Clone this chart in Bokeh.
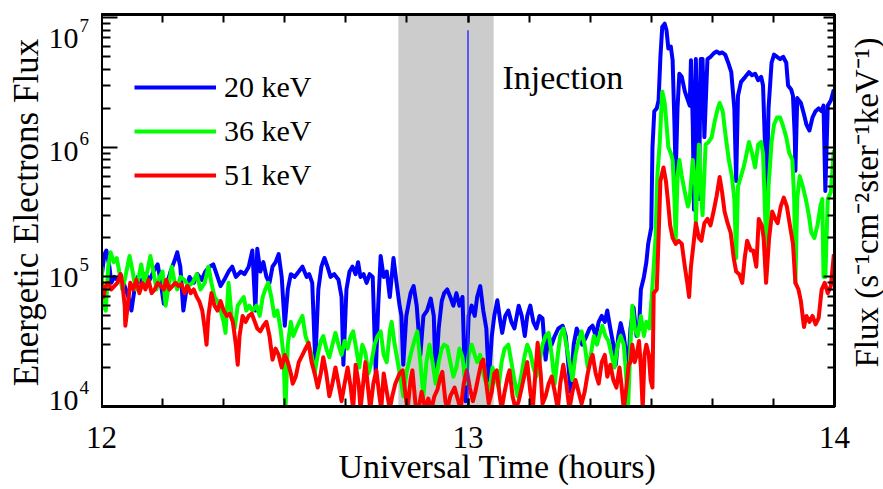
import math
from bokeh.plotting import figure
from bokeh.layouts import row, column
from bokeh.models import (Range1d, FixedTicker, LinearAxis, LogAxis, BoxAnnotation,
                          Label, Legend, LegendItem, ColumnDataSource, CustomJSTickFormatter)
from bokeh.embed import file_html
from bokeh.resources import INLINE

FONT = "Liberation Serif"

# ---- data: (minutes after 12:00 UT, flux) ----
flux_20kev = [(0,1.0e5),(0.5,1.5e5),(0.8,1.6e5),(1.3,1.2e5),(1.6,9e4),(2.1,1.0e5),(2.6,9.5e4),(3.1,1.05e5),(3.8,8.5e4),(4.4,7e4),(4.9,5.5e4),(5.4,8e4),(5.9,1.0e5),(6.5,9e4),(7.2,1.05e5),(7.9,9.5e4),(8.5,1.1e5),(9.2,1.25e5),(9.7,9e4),(10.2,6.2e4),(10.6,8.5e4),(11.3,1.1e5),(12.0,1.35e5),(12.4,1.55e5),(12.9,1.2e5),(13.4,5.5e4),(13.9,8e4),(14.4,1.0e5),(15.1,9e4),(15.7,1.05e5),(16.4,9.5e4),(17.0,1.1e5),(17.7,1.2e5),(18.3,1.25e5),(19.0,1.0e5),(19.5,8.5e4),(20.1,9.5e4),(20.8,1.1e5),(21.4,1.2e5),(22.0,1.0e5),(22.8,1.1e5),(23.4,1.05e5),(24.1,1.2e5),(24.7,1.6e5),(25.2,5.5e4),(25.5,1.65e5),(26.0,1.1e5),(26.5,1.3e5),(27.0,1.0e5),(27.5,9e4),(28.0,1.2e5),(28.5,1.3e5),(29.0,1.5e5),(29.5,1.0e5),(30.0,4.2e4),(30.5,8e4),(31.0,1.05e5),(31.6,1.0e5),(32.3,1.1e5),(32.9,1.2e5),(33.6,1.0e5),(34.0,1.05e5),(34.5,9e4),(35.0,2.2e4),(35.5,8e4),(36.0,1.2e5),(36.5,1.4e5),(37.0,1.2e5),(37.5,1.0e5),(38.1,1.05e5),(38.8,9.5e4),(39.3,7e4),(39.6,2.1e4),(40.1,8e4),(40.6,1.1e5),(41.1,1.2e5),(41.6,1.05e5),(42.0,1.3e5),(42.4,1.0e5),(42.9,1.05e5),(43.4,9e4),(43.9,1.05e5),(44.4,1.0e5),(44.9,1.8e4),(45.3,6e4),(45.7,1.45e5),(46.2,1.0e5),(46.7,1.1e5),(47.2,7e4),(47.8,1.4e5),(48.3,9e4),(48.8,6e4),(49.1,5e4),(49.4,2.1e4),(49.9,5e4),(50.6,7.5e4),(51.1,8.5e4),(51.6,6e4),(52.2,2.5e4),(52.7,5e4),(53.3,5.5e4),(53.9,6.8e4),(54.4,5e4),(54.7,1.6e4),(55.2,4e4),(55.7,6.5e4),(56.1,7.5e4),(56.6,8e4),(57.1,7e4),(57.6,6e4),(58.1,7.5e4),(58.6,6e4),(59.1,7e4),(59.6,1.1e4),(60.1,5e4),(60.6,6e4),(61.1,5e4),(61.5,7e4),(62.0,8.5e4),(62.5,5.5e4),(63.0,4e4),(63.4,1.6e4),(63.9,3.5e4),(64.3,5e4),(64.8,6.6e4),(65.3,4.5e4),(65.6,3.7e4),(66.1,5e4),(66.6,5.5e4),(67.1,4.5e4),(67.6,4e4),(68.3,6e4),(68.8,5e4),(69.3,3.5e4),(69.7,5e4),(70.2,6e4),(70.7,4.5e4),(71.2,4e4),(71.7,5e4),(72.2,4.8e4),(72.7,2.3e4),(73.2,3.5e4),(73.7,3e4),(74.2,3.5e4),(74.8,4e4),(75.5,4.2e4),(76.0,3.5e4),(76.3,2.5e4),(76.8,1.3e4),(77.3,3e4),(77.8,4e4),(78.3,3.5e4),(78.7,3e4),(79.4,3.5e4),(79.9,4e4),(80.4,4.2e4),(80.9,3.5e4),(81.4,4.5e4),(81.9,5e4),(82.4,4.5e4),(82.8,5.5e4),(83.3,4e4),(83.8,3e4),(84.2,2.1e4),(84.6,3.5e4),(85.0,4.4e4),(85.5,3.5e4),(86.2,2e4),(86.6,4e4),(87.1,5.8e4),(87.6,3.5e4),(88.0,4e4),(88.3,8e4),(88.8,1.0e5),(89.2,1.3e5),(89.5,1.8e5),(90.0,2.4e5),(90.2,1.0e6),(90.5,1.9e6),(90.9,2.0e6),(91.2,2.3e6),(91.5,5e6),(91.8,8.5e6),(92.2,9.0e6),(92.5,8e6),(92.8,5.8e6),(93.2,6e6),(93.5,4.7e6),(93.8,1.5e6),(94.0,6e5),(94.3,2e6),(94.6,3.7e6),(95.0,3.5e6),(95.5,2.7e6),(96.0,2.3e6),(96.3,2.1e6),(96.5,4.7e6),(96.8,1.5e6),(97.0,3.3e5),(97.3,4.8e6),(97.6,1.2e6),(97.8,4e5),(98.1,4.8e6),(98.4,4.8e6),(98.7,1.2e6),(99.2,4.8e6),(99.7,5e6),(100.2,5.3e6),(100.7,5.5e6),(101.2,5.3e6),(101.6,5.4e6),(102.1,5.2e6),(102.6,4.5e6),(103.1,3.8e6),(103.6,2e6),(103.9,5.5e5),(104.2,2.5e6),(104.7,3.2e6),(105.4,3.5e6),(106.0,3.8e6),(106.5,3.6e6),(107.0,3.7e6),(107.5,3.3e6),(108.0,3.5e6),(108.3,3e6),(108.7,8e5),(108.8,2.4e5),(109.2,2e6),(109.7,4.5e6),(110.1,5.2e6),(110.6,5e6),(111.1,4.8e6),(111.6,5e6),(112.1,4.5e6),(112.4,3e6),(112.9,2.8e6),(113.2,2.5e6),(113.5,1.2e6),(113.6,6.6e5),(113.9,2.4e6),(114.5,2.2e6),(115.0,1.8e6),(115.4,1.5e6),(115.9,1.35e6),(116.4,1.7e6),(116.9,1.9e6),(117.4,2.0e6),(117.9,1.9e6),(118.2,2.1e6),(118.5,4.6e5),(118.9,2.1e6),(119.4,2.3e6),(119.9,2.8e6)]

flux_36kev = [(0,1.2e5),(0.3,6e4),(0.7,5.5e4),(1.1,1.2e5),(1.5,1.55e5),(2.0,1.3e5),(2.5,1.4e5),(2.9,1.1e5),(3.4,8e4),(3.9,1.0e5),(4.6,1.45e5),(5.1,1.1e5),(5.6,8e4),(6.1,1.0e5),(6.5,1.25e5),(7.0,9e4),(7.5,1.1e5),(8.0,1.45e5),(8.5,1.1e5),(9.0,8e4),(9.5,1.0e5),(10.0,1.1e5),(10.5,6e4),(11.0,8.5e4),(11.5,1.2e5),(12.0,9e4),(12.4,8e4),(12.9,1.0e5),(13.6,9.5e4),(14.2,8.5e4),(14.9,9e4),(15.6,1.05e5),(16.2,8e4),(16.9,9e4),(17.5,1.2e5),(18.0,9e4),(18.5,7e4),(19.0,6.5e4),(19.5,5.5e4),(20.0,4.5e4),(20.3,3.7e4),(20.8,9e4),(21.3,5e4),(21.8,4e4),(22.3,6e4),(22.8,6.5e4),(23.3,7e4),(23.7,5.5e4),(24.2,6e4),(24.7,5.5e4),(25.4,6e4),(25.9,5e4),(26.4,7e4),(26.8,8e4),(27.3,9e4),(27.8,7e4),(28.3,5e4),(28.8,5.5e4),(29.3,4e4),(29.8,2.5e4),(30.1,9e3),(30.5,3e4),(31.0,4.5e4),(31.4,3.5e4),(31.9,4e4),(32.4,4.5e4),(32.9,5e4),(33.4,3.5e4),(33.9,3e4),(34.4,2.5e4),(34.9,1.8e4),(35.4,2.5e4),(35.9,3.2e4),(36.3,3.5e4),(36.8,2.8e4),(37.3,2.4e4),(37.8,3e4),(38.3,3.7e4),(38.8,3e4),(39.3,2.5e4),(39.8,3.2e4),(40.3,2.8e4),(40.8,3.5e4),(41.2,3.8e4),(41.7,2.8e4),(42.2,2e4),(42.7,3e4),(43.2,2.6e4),(43.7,1.8e4),(44.2,2.2e4),(44.7,3e4),(45.2,3.5e4),(45.7,3.8e4),(46.2,2.5e4),(46.7,2.2e4),(47.2,3.8e4),(47.5,4.5e4),(48.0,3e4),(48.5,2.2e4),(49.0,1.6e4),(49.4,1.2e4),(49.9,1.8e4),(50.6,2.5e4),(51.2,3.2e4),(51.7,3.8e4),(52.2,2.2e4),(52.7,1.2e4),(53.2,2.2e4),(53.7,3e4),(54.2,2.2e4),(54.7,1.5e4),(55.2,2.2e4),(55.7,2.8e4),(56.1,3e4),(56.6,2.9e4),(57.1,2.2e4),(57.6,1.7e4),(58.1,2e4),(58.6,2.8e4),(59.1,2.4e4),(59.6,1.5e4),(60.1,2.5e4),(60.6,3e4),(61.1,2.5e4),(61.5,2.2e4),(62.0,2.5e4),(62.5,1.8e4),(63.0,1.5e4),(63.5,1.3e4),(64.0,2e4),(64.5,1.7e4),(65.0,1.4e4),(65.5,2.2e4),(66.0,2.8e4),(66.6,3e4),(67.1,2.2e4),(67.6,1.6e4),(68.1,1.2e4),(68.6,1.6e4),(69.3,2.5e4),(69.7,3e4),(70.2,2.6e4),(70.7,2e4),(71.2,1.7e4),(71.7,2.2e4),(72.2,3e4),(72.7,3.5e4),(73.2,3.7e4),(73.7,2.5e4),(74.2,1.5e4),(74.7,2.5e4),(75.1,3.5e4),(75.6,4e4),(76.1,3e4),(76.6,2.2e4),(77.1,1.6e4),(77.6,2.5e4),(78.1,3.2e4),(78.6,3.8e4),(79.1,3e4),(79.6,2e4),(80.1,2.5e4),(80.6,3.5e4),(81.1,3e4),(81.5,3.5e4),(82.0,4.2e4),(82.5,3.5e4),(83.0,3.2e4),(83.5,2.5e4),(84.0,2e4),(84.5,3e4),(85.0,3.5e4),(85.5,3e4),(85.8,2e4),(86.2,9.5e3),(86.6,3e4),(86.9,6e4),(87.3,4e4),(87.8,3.5e4),(88.3,5e4),(88.8,3.5e4),(89.2,4.5e4),(89.7,4e4),(90.2,8.5e4),(90.7,2e5),(91.0,6e5),(91.4,1.1e6),(91.7,2.2e6),(91.8,2.7e6),(92.2,2.2e6),(92.5,1.5e6),(92.8,1.0e6),(93.2,9e5),(93.5,8e5),(93.8,4e5),(94.0,1.9e5),(94.3,6e5),(94.6,8e5),(95.0,6e5),(95.5,4.5e5),(96.0,3.5e5),(96.3,4e5),(96.8,8e5),(97.2,5e5),(97.3,2.6e5),(97.6,6e5),(97.8,1.05e6),(98.1,5e5),(98.4,3e5),(98.9,1.05e6),(99.4,1.1e6),(99.9,1.2e6),(100.4,1.6e6),(100.9,2e6),(101.2,2.2e6),(101.7,1.9e6),(102.2,1.2e6),(102.7,8e5),(103.2,6e5),(103.6,4e5),(103.9,1.4e5),(104.2,5e5),(104.7,6e5),(105.1,7e5),(105.4,8e5),(106.0,1.1e6),(106.5,9e5),(107.0,7e5),(107.5,1.05e6),(108.0,1.1e6),(108.3,9e5),(108.7,2.5e5),(108.8,1e5),(109.2,5e5),(109.7,1.1e6),(110.1,1.5e6),(110.6,1.7e6),(111.1,1.7e6),(111.6,1.45e6),(112.1,1.2e6),(112.6,9e5),(113.1,8e5),(113.4,4e5),(113.6,9e4),(113.9,4e5),(114.3,6e5),(114.8,5e5),(115.3,4e5),(115.8,3e5),(116.2,2.2e5),(116.7,2e5),(117.2,2.5e5),(117.7,3.5e5),(118.0,4e5),(118.2,1e5),(118.5,1e5),(118.9,4e5),(119.4,4.5e5),(119.9,9.5e5)]

flux_51kev = [(0,9e4),(0.3,7e4),(0.7,8.5e4),(1.1,9e4),(1.6,8e4),(2.1,8.5e4),(2.6,9e4),(3.1,1.05e5),(3.4,9e4),(3.8,6e4),(3.9,4.2e4),(4.3,6e4),(4.7,9e4),(5.2,8e4),(5.7,9.5e4),(6.2,7.5e4),(6.7,9e4),(7.2,8e4),(7.7,9.5e4),(8.2,7.5e4),(8.7,8e4),(9.2,9e4),(9.7,8.5e4),(10.2,8e4),(10.6,9.5e4),(11.1,8e4),(11.6,8.5e4),(12.1,9e4),(12.6,8.5e4),(13.1,8.8e4),(13.6,7.5e4),(14.1,8.5e4),(14.6,7.5e4),(15.1,8e4),(15.6,7e4),(16.0,6.5e4),(16.5,5.5e4),(16.9,4e4),(17.2,3e4),(17.5,5e4),(18.0,7.5e4),(18.5,6e4),(19.0,5.5e4),(19.5,6.5e4),(20.0,5.5e4),(20.5,5e4),(21.0,5.2e4),(21.5,4.5e4),(22.0,3e4),(22.3,2.1e4),(22.6,3.5e4),(23.1,5e4),(23.6,4.5e4),(24.1,5e4),(24.6,5.2e4),(25.1,4.5e4),(25.5,4e4),(26.0,3.8e4),(26.5,4.2e4),(27.0,4.5e4),(27.5,3.5e4),(28.0,2.3e4),(28.5,2.8e4),(29.0,2.5e4),(29.5,2e4),(30.0,2.5e4),(30.5,2.2e4),(31.0,1.8e4),(31.3,1.5e4),(31.8,1.7e4),(32.3,2.2e4),(32.9,2.5e4),(33.4,2.8e4),(33.9,3.1e4),(34.4,2.2e4),(34.9,1.8e4),(35.4,1.4e4),(35.9,1.8e4),(36.3,2.4e4),(36.8,1.8e4),(37.3,1.2e4),(37.8,1.5e4),(38.3,2e4),(38.8,1.5e4),(39.3,1.1e4),(39.8,1.5e4),(40.3,2e4),(40.8,1.4e4),(41.2,9.5e3),(41.6,2.1e4),(42.1,1.5e4),(42.4,9.5e3),(42.9,1.6e4),(43.2,2.2e4),(43.7,1.3e4),(44.0,9.5e3),(44.5,1.5e4),(45.0,1.9e4),(45.5,1.2e4),(45.8,9.5e3),(46.2,1.8e4),(46.7,1.3e4),(47.2,9.5e3),(47.6,1.2e4),(48.1,1.5e4),(48.8,1.8e4),(49.3,1.9e4),(49.8,1.2e4),(50.1,9.5e3),(50.6,1.6e4),(50.9,1.9e4),(51.4,1.05e4),(51.9,9.5e3),(52.4,1.3e4),(53.0,9.5e3),(53.5,1.15e4),(54.0,9.5e3),(54.5,1.2e4),(55.0,1.35e4),(55.5,1.7e4),(55.8,1.85e4),(56.3,1.1e4),(56.6,9.5e3),(57.1,1.2e4),(57.8,1.4e4),(58.3,1.15e4),(58.8,9.5e3),(59.3,1.5e4),(59.8,1.9e4),(60.3,1.4e4),(60.8,1.1e4),(61.2,1.3e4),(61.7,1.7e4),(62.2,2.2e4),(62.5,2.3e4),(63.0,1.5e4),(63.4,1.05e4),(63.9,1.3e4),(64.3,1.8e4),(64.7,1.9e4),(65.2,1.2e4),(65.5,9.5e3),(66.0,1.3e4),(66.5,1.7e4),(66.8,1.9e4),(67.3,1.2e4),(67.8,9.5e3),(68.3,1.1e4),(68.8,1.4e4),(69.3,1.8e4),(69.7,2.2e4),(70.2,1.3e4),(70.6,9.5e3),(71.1,2e4),(71.4,3.1e4),(71.9,1.8e4),(72.2,1.05e4),(72.7,1.2e4),(73.2,1.5e4),(73.7,1.7e4),(74.2,1.3e4),(74.7,9.5e3),(75.1,1.5e4),(75.6,2.1e4),(76.1,1.5e4),(76.6,9.5e3),(77.1,1.3e4),(77.6,1.6e4),(78.1,1.3e4),(78.6,1.05e4),(79.1,1.3e4),(79.6,1.8e4),(80.1,2.3e4),(80.4,2.5e4),(80.9,1.8e4),(81.4,1.5e4),(81.9,2.2e4),(82.4,2.5e4),(82.8,1.7e4),(83.3,2.1e4),(83.8,1.6e4),(84.3,1.4e4),(84.8,2e4),(85.1,1.5e4),(85.5,9.5e3),(86.0,1.5e4),(86.3,2.1e4),(86.6,2.2e4),(86.9,3e4),(87.3,2.2e4),(87.6,2.5e4),(88.0,3.2e4),(88.3,2e4),(88.6,9.5e3),(88.9,2.5e4),(89.2,3e4),(89.6,2.5e4),(89.9,1.6e4),(90.2,1.4e4),(90.4,7.5e4),(90.9,8e4),(91.2,2e5),(91.5,5.5e5),(92.0,7e5),(92.4,5.5e5),(92.7,4e5),(93.1,2.5e5),(93.5,2e5),(94.0,1.8e5),(94.5,1.9e5),(95.0,1.8e5),(95.5,1.2e5),(95.9,9e4),(96.2,7e4),(96.5,1.2e5),(96.8,1.6e5),(97.3,2.6e5),(97.8,2e5),(98.2,1.9e5),(98.7,2.6e5),(99.2,2.8e5),(99.7,2.5e5),(100.2,3.2e5),(100.7,4.2e5),(101.2,5.9e5),(101.6,4.5e5),(102.0,3.2e5),(102.5,2.6e5),(103.0,2.2e5),(103.5,1.4e5),(103.9,1.1e5),(104.4,1.05e5),(104.9,9e4),(105.3,1.4e5),(105.7,1.9e5),(106.3,1.6e5),(106.7,1.6e5),(107.2,1.2e5),(107.6,2.8e5),(108.1,2.5e5),(108.4,2e5),(108.8,9e4),(109.3,2e5),(109.8,3.2e5),(110.3,2.8e5),(110.7,2.6e5),(111.2,3.5e5),(111.7,4.1e5),(112.2,3.5e5),(112.7,2.5e5),(113.2,1.8e5),(113.6,9e4),(114.1,8e4),(114.5,6.5e4),(115.0,4.1e4),(115.4,5e4),(115.9,4.5e4),(116.4,5e4),(116.9,4.3e4),(117.4,4.8e4),(117.9,8e4),(118.4,9e4),(118.9,7.5e4),(119.4,8.5e4),(119.9,1.5e5)]

series_labels = ["20 keV", "36 keV", "51 keV"]
series_colors = ["#0000ff", "#00ff00", "#ff0000"]

injection_band = (12.81, 13.07)        # hours UT
marker_time = [13.0]                   # thin vertical marker
marker_low = [1e4]
marker_top = [8e6]
injection_text = "Injection"
injection_pos = (13.094, 3.47e6)

x_major = [12, 13, 14]
x_tick_labels = ["12", "13", "14"]
y_exponents = [4, 5, 6, 7]
x_title = "Universal Time (hours)"
y_title = "Energetic Electrons Flux"
y2_title = "Flux (s\u207b\u00b9cm\u207b\u00b2ster\u207b\u00b9keV\u207b\u00b9)"

X_LO, X_HI = 12, 14
Y_LO, Y_HI = 1e4, 1.06e7

# ---- geometry ----
TOTAL_W, TOTAL_H = 883, 489
LEFT_W, SIDE_W = 101, 38
MAIN_W = TOTAL_W - LEFT_W - SIDE_W          # 744
TOP_H = 419
BOT_H = TOTAL_H - TOP_H                     # 70
B_TOP, B_BOTTOM, B_RIGHT = 14, 13, 11
FRAME_W = MAIN_W - B_RIGHT                  # 733
FRAME_H = TOP_H - B_TOP - B_BOTTOM          # 392

# ---- main figure ----
p = figure(width=MAIN_W, height=TOP_H, x_range=Range1d(X_LO, X_HI), y_range=Range1d(Y_LO, Y_HI),
           y_axis_type="log", output_backend="svg", toolbar_location=None,
           min_border_left=0, min_border_right=B_RIGHT, min_border_top=B_TOP,
           min_border_bottom=B_BOTTOM, frame_align=False)
p.background_fill_color = "white"
p.border_fill_color = "white"
p.xgrid.visible = False
p.ygrid.visible = False
p.outline_line_color = "black"
p.outline_line_width = 3

p.add_layout(BoxAnnotation(left=injection_band[0], right=injection_band[1],
                           fill_color="#cccccc", fill_alpha=1.0, line_color=None, level="underlay"))

renderers = []
for data, col in zip([flux_20kev, flux_36kev, flux_51kev], series_colors):
    src = ColumnDataSource(dict(t=[12 + m / 60.0 for m, _ in data], f=[v for _, v in data]))
    r = p.line("t", "f", source=src, line_color=col, line_width=4, line_join="round")
    renderers.append(r)

p.segment(x0=marker_time, y0=marker_low, x1=marker_time, y1=marker_top,
          line_color="#3333ff", line_width=1.5)

# ---- axes (ticks only; labels drawn in the side strips) ----
x_minor = [12 + k / 6.0 for k in range(13)]
xt = FixedTicker(ticks=x_major, minor_ticks=x_minor)
y_minor = [k * 10 ** d for d in range(4, 8) for k in range(2, 10) if k * 10 ** d <= Y_HI]
yt = FixedTicker(ticks=[10 ** e for e in y_exponents], minor_ticks=y_minor)
blank = CustomJSTickFormatter(code="return ''")

def tick_style(ax, major, minor):
    ax.formatter = blank
    ax.major_label_text_font_size = "0px"
    ax.major_label_standoff = 0
    ax.major_tick_in = major; ax.major_tick_out = 0
    ax.minor_tick_in = minor; ax.minor_tick_out = 0
    ax.major_tick_line_width = 2; ax.minor_tick_line_width = 2
    ax.axis_line_width = 3

xa = p.xaxis[0]; xa.ticker = xt; tick_style(xa, 8, 8)
ya = p.yaxis[0]; ya.ticker = yt; tick_style(ya, 16, 9)
top = LinearAxis(ticker=xt); tick_style(top, 8, 8)
p.add_layout(top, "above")
right = LogAxis(ticker=yt); tick_style(right, 11, 7)
p.add_layout(right, "right")

p.add_layout(Label(x=injection_pos[0], y=injection_pos[1], text=injection_text,
                   text_align="left", text_baseline="middle",
                   text_font=FONT, text_font_size="34px", text_color="black"))

legend = Legend(items=[LegendItem(label=l, renderers=[r]) for l, r in zip(series_labels, renderers)],
                location=(33, 211), glyph_width=82, glyph_height=40, label_height=40,
                spacing=4, padding=0, margin=0, label_standoff=8,
                label_text_font=FONT, label_text_font_size="30px", label_text_color="black",
                border_line_color=None, background_fill_alpha=0)
p.add_layout(legend)

# ---- helper strips (frames fill the whole strip) ----
def strip(w, h, x_range=None, y_range=None, log=False):
    f = figure(width=w, height=h,
               x_range=x_range if x_range is not None else Range1d(0, w),
               y_range=y_range if y_range is not None else Range1d(0, h),
               x_axis_type=None, y_axis_type="log" if log else None,
               x_axis_location=None, y_axis_location=None,
               output_backend="svg", toolbar_location=None, min_border=0,
               frame_align=False)
    for g in f.grid:
        g.visible = False
    f.outline_line_color = None
    f.background_fill_color = "white"
    f.border_fill_color = "white"
    return f

# left strip: same log scale as the main frame, range extended over its full height
ky = (math.log10(Y_HI) - math.log10(Y_LO)) / FRAME_H
left_range = Range1d(10 ** (math.log10(Y_LO) - B_BOTTOM * ky), 10 ** (math.log10(Y_HI) + B_TOP * ky))
left = strip(LEFT_W, TOP_H, y_range=left_range, log=True)

label_shift = {4: 6, 5: -1, 6: -4, 7: -21}
for e in y_exponents:
    left.add_layout(Label(x=78, y=10 ** e, text="10", y_offset=label_shift[e],
                          text_align="right", text_baseline="middle",
                          text_font=FONT, text_font_size="30px", text_color="black"))
    left.add_layout(Label(x=79, y=10 ** e, text=str(e), y_offset=label_shift[e] + 13,
                          text_align="left", text_baseline="middle",
                          text_font=FONT, text_font_size="19px", text_color="black"))
left.add_layout(Label(x=26, y=TOP_H - 212, y_units="screen", text=y_title, angle=math.pi / 2,
                      text_align="center", text_baseline="middle",
                      text_font=FONT, text_font_size="35px", text_color="black"))

# right strip: right-hand y title reading bottom to top
side = strip(SIDE_W, TOP_H)
side.add_layout(Label(x=21, y=TOP_H - 202, text=y2_title, angle=math.pi / 2,
                      text_align="center", text_baseline="middle",
                      text_font=FONT, text_font_size="33px", text_color="black"))

# bottom strip: same x scale as the main frame, range extended over the full width
kx = (X_HI - X_LO) / FRAME_W
bottom_range = Range1d(X_LO - LEFT_W * kx, X_HI + (TOTAL_W - LEFT_W - FRAME_W) * kx)
bottom = strip(TOTAL_W, BOT_H, x_range=bottom_range)
for xv, txt in zip(x_major, x_tick_labels):
    bottom.add_layout(Label(x=xv, y=BOT_H - 18, y_units="screen", text=txt,
                            text_align="center", text_baseline="middle",
                            text_font=FONT, text_font_size="31px", text_color="black"))
bottom.add_layout(Label(x=497, y=23, x_units="screen", y_units="screen", text=x_title,
                        text_align="center", text_baseline="middle",
                        text_font=FONT, text_font_size="34px", text_color="black"))

layout = column(row(left, p, side, spacing=0), bottom, spacing=0)
open("out.html", "w").write(file_html(layout, INLINE))
